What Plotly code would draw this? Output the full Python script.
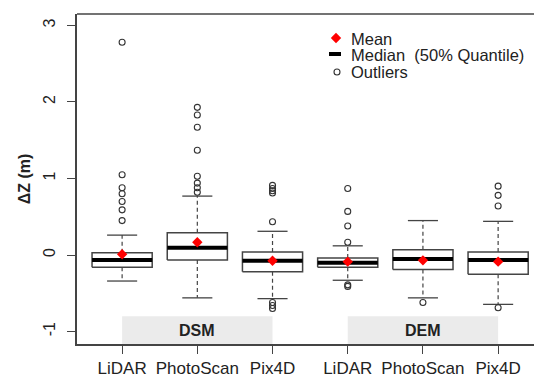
import plotly.graph_objects as go

# ---- data ----
categories = ["LiDAR", "PhotoScan", "Pix4D", "LiDAR", "PhotoScan", "Pix4D"]
positions = [1, 2, 3, 4, 5, 6]
q1 = [-0.16, -0.065, -0.22, -0.16, -0.19, -0.25]
median = [-0.065, 0.095, -0.075, -0.10, -0.052, -0.065]
q3 = [0.03, 0.29, 0.04, -0.04, 0.07, 0.04]
lower_whisker = [-0.34, -0.56, -0.57, -0.33, -0.56, -0.645]
upper_whisker = [0.26, 0.77, 0.31, 0.12, 0.45, 0.44]
means = [0.01, 0.166, -0.075, -0.087, -0.07, -0.087]
outliers = [
    [2.78, 1.05, 0.88, 0.80, 0.70, 0.59, 0.45],
    [1.93, 1.83, 1.67, 1.37, 1.03, 0.94, 0.88, 0.82],
    [0.91, 0.87, 0.84, 0.81, 0.435, -0.62, -0.66, -0.70],
    [0.87, 0.57, 0.38, 0.166, -0.39, -0.41],
    [-0.62],
    [0.90, 0.78, 0.64, -0.69],
]
groups = ["DSM", "DEM"]
group_span = [(1, 3), (4, 6)]
yticks = [-1, 0, 1, 2, 3]
legend_labels = ["Mean", "Median  (50% Quantile)", "Outliers"]

BOX_HALF = 0.4
CAP_HALF = 0.2
EDGE = "#444444"
FONT = "Liberation Sans, Arial, sans-serif"

fig = go.Figure()

for i, x in enumerate(positions):
    # whiskers (dashed)
    fig.add_trace(go.Scatter(x=[x, x, None, x, x], y=[q3[i], upper_whisker[i], None, q1[i], lower_whisker[i]],
                             mode="lines", line=dict(color=EDGE, width=1.2, dash="4px,3px"),
                             showlegend=False, hoverinfo="skip"))
    # caps
    fig.add_trace(go.Scatter(x=[x - CAP_HALF, x + CAP_HALF, None, x - CAP_HALF, x + CAP_HALF],
                             y=[upper_whisker[i], upper_whisker[i], None, lower_whisker[i], lower_whisker[i]],
                             mode="lines", line=dict(color=EDGE, width=1.3),
                             showlegend=False, hoverinfo="skip"))
    # box
    fig.add_trace(go.Scatter(x=[x - BOX_HALF, x + BOX_HALF, x + BOX_HALF, x - BOX_HALF, x - BOX_HALF],
                             y=[q1[i], q1[i], q3[i], q3[i], q1[i]],
                             mode="lines", fill="toself", fillcolor="white",
                             line=dict(color=EDGE, width=1.5),
                             showlegend=False, hoverinfo="skip"))
    # median
    fig.add_trace(go.Scatter(x=[x - BOX_HALF, x + BOX_HALF], y=[median[i], median[i]],
                             mode="lines", line=dict(color="black", width=4),
                             showlegend=False, hoverinfo="skip"))
    # outliers
    fig.add_trace(go.Scatter(x=[x] * len(outliers[i]), y=outliers[i], mode="markers",
                             marker=dict(symbol="circle-open", size=6, color="#333333", line=dict(width=1.1)),
                             showlegend=False, hoverinfo="skip"))

# means
fig.add_trace(go.Scatter(x=positions, y=means, mode="markers",
                         marker=dict(symbol="diamond", size=8, color="#ff0000"),
                         showlegend=False, hoverinfo="skip"))

# group bands
for g, (a, b) in zip(groups, group_span):
    fig.add_shape(type="rect", xref="x", yref="y", x0=a, x1=b, y0=-1.163, y1=-0.8,
                  fillcolor="#ebebeb", line=dict(width=0), layer="below")
    fig.add_annotation(x=(a + b) / 2, y=-0.99, xref="x", yref="y", text="<b>%s</b>" % g,
                       showarrow=False, font=dict(size=16, color="#222222", family=FONT))

# legend on a pixel-space overlay axis
fig.add_trace(go.Scatter(x=[336], y=[38], xaxis="x2", yaxis="y2", mode="markers",
                         marker=dict(symbol="diamond", size=8, color="#ff0000"),
                         showlegend=False, hoverinfo="skip"))
fig.add_trace(go.Scatter(x=[329, 341], y=[54, 54], xaxis="x2", yaxis="y2", mode="lines",
                         line=dict(color="black", width=4), showlegend=False, hoverinfo="skip"))
fig.add_trace(go.Scatter(x=[337], y=[72], xaxis="x2", yaxis="y2", mode="markers",
                         marker=dict(symbol="circle-open", size=6, color="#333333", line=dict(width=1.1)),
                         showlegend=False, hoverinfo="skip"))
for lbl, yy in zip(legend_labels, [39, 55, 72]):
    fig.add_annotation(x=349, y=yy, xref="x2", yref="y2", text=lbl, showarrow=False,
                       xanchor="left", yanchor="middle",
                       font=dict(size=16.5, color="#222222", family=FONT))

# top border
fig.add_shape(type="line", xref="paper", yref="paper", x0=0, x1=1, y0=1, y1=1,
              line=dict(color=EDGE, width=1.5))

fig.update_layout(
    width=534, height=376,
    margin=dict(l=77, r=0, t=14, b=32, autoexpand=False),
    paper_bgcolor="white", plot_bgcolor="white",
    showlegend=False,
    font=dict(family=FONT, color="#222222"),
    xaxis=dict(range=[0.4, 6.477], tickvals=positions, ticktext=categories, automargin=False,
               showgrid=False, zeroline=False, showline=True, linecolor=EDGE, linewidth=1.5,
               ticks="outside", ticklen=8, tickcolor=EDGE, tickwidth=1.2,
               tickfont=dict(size=17, color="#222222"), ticklabelstandoff=0),
    yaxis=dict(range=[-1.163, 3.15], tickvals=yticks, ticktext=[str(v) for v in yticks], automargin=False,
               showgrid=False, zeroline=False, showline=True, linecolor=EDGE, linewidth=1.5,
               ticks="outside", ticklen=8, tickcolor=EDGE, tickwidth=1.2, tickangle=-90,
               tickfont=dict(size=16, color="#222222"), ticklabelstandoff=6,
               title=dict(text="<b>ΔZ (m)</b>", font=dict(size=16, color="#222222"), standoff=6)),
    xaxis2=dict(overlaying="x", range=[77, 534], visible=False, automargin=False),
    yaxis2=dict(overlaying="y", range=[344, 14], visible=False, automargin=False),
)

fig.write_html("out.html", config={"displayModeBar": False},
               post_script="document.body.style.margin='0';document.body.style.overflow='hidden';")
